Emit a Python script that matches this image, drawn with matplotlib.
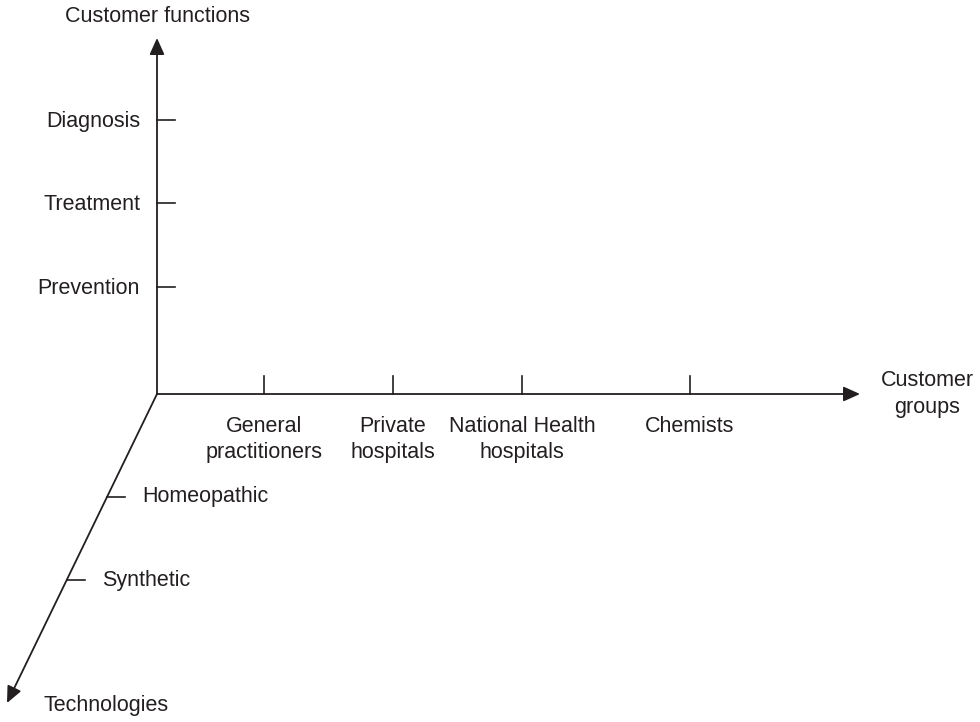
import matplotlib.pyplot as plt
import numpy as np

plt.switch_backend("Agg")
plt.rcParams["font.family"] = ["Liberation Sans", "DejaVu Sans"]

# Axis categories and their distance (px) from the origin along each axis
functions = ["Prevention", "Treatment", "Diagnosis"]
function_pos = [107, 191, 274]

groups = ["General\npractitioners", "Private\nhospitals",
          "National Health\nhospitals", "Chemists"]
group_pos = [107, 236, 365, 533]

technologies = ["Homeopathic", "Synthetic"]
tech_pos = [114, 207]

axis_titles = ["Customer functions", "Customer\ngroups", "Technologies"]

INK = "#231f20"
ORIGIN = np.array([157.0, 394.0])
V_END = np.array([157.0, 38.0])
H_END = np.array([860.0, 394.0])
D_END = np.array([7.0, 703.0])
TICK = 18


def draw_arrow(ax, start, end):
    ax.annotate("", xy=end, xytext=start,
                arrowprops=dict(arrowstyle="-|>,head_length=1.0,head_width=0.45",
                                color=INK, lw=1.3, shrinkA=0, shrinkB=0,
                                mutation_scale=10))


def main() -> None:
    fig = plt.figure(figsize=(9.8, 7.22), dpi=100)
    ax = fig.add_axes([0, 0, 1, 1])
    ax.set_xlim(0, 980)
    ax.set_ylim(722, 0)
    ax.axis("off")

    for end in (V_END, H_END, D_END):
        draw_arrow(ax, ORIGIN, end)

    fs = 15.5
    ls = 1.33

    # vertical axis: customer functions
    for name, d in zip(functions, function_pos):
        y = ORIGIN[1] - d
        ax.plot([ORIGIN[0], ORIGIN[0] + TICK], [y, y], color=INK, lw=1.2)
        ax.text(ORIGIN[0] - 17, y + 1, name, ha="right", va="center",
                fontsize=fs, color=INK)
    ax.text(V_END[0], 16, axis_titles[0], ha="center", va="center",
            fontsize=fs, color=INK)

    # horizontal axis: customer groups
    for name, d in zip(groups, group_pos):
        x = ORIGIN[0] + d
        ax.plot([x, x], [ORIGIN[1], ORIGIN[1] - TICK], color=INK, lw=1.2)
        ax.text(x, 416, name, ha="center", va="top",
                fontsize=fs, color=INK, linespacing=ls)
    ax.text(927, 394, axis_titles[1], ha="center", va="center",
            fontsize=fs, color=INK, linespacing=ls)

    # diagonal axis: technologies
    direction = (D_END - ORIGIN) / np.linalg.norm(D_END - ORIGIN)
    for name, d in zip(technologies, tech_pos):
        p = ORIGIN + direction * d
        ax.plot([p[0], p[0] + TICK], [p[1], p[1]], color=INK, lw=1.2)
        ax.text(p[0] + 35, p[1], name, ha="left", va="center",
                fontsize=fs, color=INK)
    ax.text(43, 705, axis_titles[2], ha="left", va="center",
            fontsize=fs, color=INK)

    fig.savefig("out.png", dpi=100, facecolor="white")


if __name__ == "__main__":
    main()
